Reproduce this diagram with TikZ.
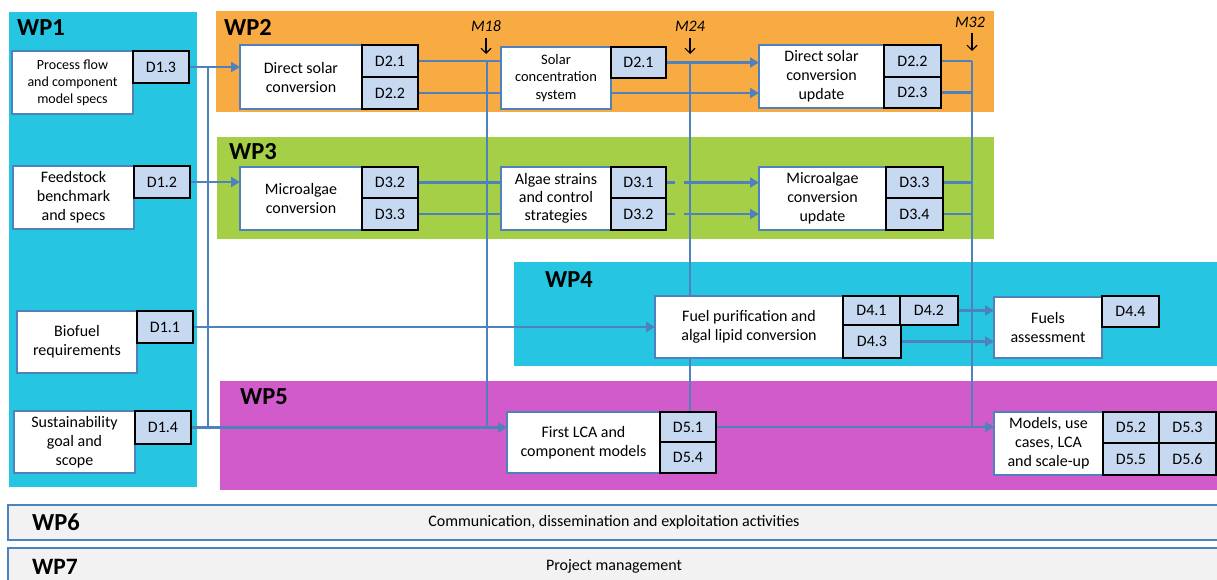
\documentclass[tikz,border=0pt]{standalone}
\usepackage{fontspec}
\setmainfont{Carlito}
\usetikzlibrary{arrows.meta}

\definecolor{wpcyan}{HTML}{26C5E1}
\definecolor{wporange}{HTML}{F9AB43}
\definecolor{wpgreen}{HTML}{A4CF46}
\definecolor{wpmagenta}{HTML}{D15BCB}
\definecolor{delivfill}{HTML}{C6D9F1}
\definecolor{linkblue}{HTML}{4F81BD}
\definecolor{bargray}{HTML}{F2F2F2}

\pgfdeclarelayer{panels}
\pgfdeclarelayer{links}
\pgfsetlayers{panels,links,main}

\tikzset{
  body/.style={font=\fontsize{16}{19}\selectfont},
  task/.style={draw=linkblue, line width=2.2pt, fill=white, align=center,
               inner sep=1pt, outer sep=0pt, body},
  deliv/.style={draw=black, line width=2.8pt, fill=delivfill,
                inner sep=0pt, outer sep=0pt, body},
  link/.style={draw=linkblue, line width=2.8pt},
  feed/.style={link, -{Triangle[length=9pt,width=10pt]}},
  wplabel/.style={font=\fontsize{24.5}{27}\selectfont\bfseries,
                  anchor=base west, inner sep=0pt},
  mlabel/.style={font=\fontsize{16}{19}\selectfont\itshape,
                 anchor=base, inner sep=0pt},
  mtick/.style={-{Straight Barb[length=5pt,width=10pt]}, line width=1.1pt, black},
  bar/.style={draw=linkblue, line width=2.8pt, fill=bargray,
              anchor=north west, inner sep=0pt, outer sep=0pt},
}

% box given by its corners: name, style, x1, y1, x2, y2, text
\newcommand\putbox[7]{%
  \node[#2, anchor=north west, minimum width={(#5-#3)*1pt},
        minimum height={(#6-#4)*1pt}] (#1) at (#3,#4) {#7};}

\begin{document}
\begin{tikzpicture}[x=1pt, y=-1pt]
\clip (0,0) rectangle (1217,579);

% work package panels
\begin{pgfonlayer}{panels}
  \fill[white]     (0,0)     rectangle (1217,579);
  \fill[wpcyan]    (9,12)    rectangle (197,487);
  \fill[wporange]  (216,11)  rectangle (994,112);
  \fill[wpgreen]   (217,137) rectangle (994,239);
  \fill[wpcyan]    (514,262) rectangle (1217,366);
  \fill[wpmagenta] (220,381) rectangle (1217,490);
\end{pgfonlayer}

\node[wplabel] (wp1) at (17,35)  {WP1};
\node[wplabel] (wp2) at (224,35) {WP2};
\node[wplabel] (wp3) at (229,159) {WP3};
\node[wplabel] (wp4) at (545,287) {WP4};
\node[wplabel] (wp5) at (240,404) {WP5};

% WP1
\putbox{pf}{task,font=\fontsize{14}{17}\selectfont}{12}{51}{133}{114}{Process flow\\and component\\model specs}
\putbox{d13}{deliv}{133}{51}{189}{83}{D1.3}
\putbox{fb}{task}{13}{166}{134}{229}{Feedstock\\benchmark\\and specs}
\putbox{d12}{deliv}{134}{166}{190}{198}{D1.2}
\putbox{br}{task}{17}{311}{137}{373}{Biofuel\\requirements}
\putbox{d11}{deliv}{137}{311}{193}{343}{D1.1}
\putbox{sg}{task}{14}{411}{135}{473}{Sustainability\\goal and\\scope}
\putbox{d14}{deliv}{135}{411}{191}{444}{D1.4}

% WP2
\putbox{ds}{task}{240}{45}{362}{109}{Direct solar\\conversion}
\putbox{d21a}{deliv}{362}{45}{418}{77}{D2.1}
\putbox{d22a}{deliv}{362}{77}{418}{109}{D2.2}
\putbox{sc}{task,font=\fontsize{14.5}{17.5}\selectfont}{501}{47}{611}{109}{Solar\\concentration\\system}
\putbox{d21b}{deliv}{611}{47}{666}{78}{D2.1}
\putbox{du}{task}{759}{45}{884}{108}{Direct solar\\conversion\\update}
\putbox{d22b}{deliv}{884}{45}{941}{77}{D2.2}
\putbox{d23}{deliv}{884}{77}{941}{108}{D2.3}

% WP3
\putbox{mc}{task}{240}{167}{362}{230}{Microalgae\\conversion}
\putbox{d32a}{deliv}{362}{167}{418}{198}{D3.2}
\putbox{d33a}{deliv}{362}{198}{418}{230}{D3.3}
\putbox{as}{task,font=\fontsize{16}{18}\selectfont}{501}{167}{611}{230}{Algae strains\\and control\\strategies}
\putbox{d31}{deliv}{611}{167}{666}{198}{D3.1}
\putbox{d32b}{deliv}{611}{198}{666}{230}{D3.2}
\putbox{mu}{task}{759}{167}{886}{230}{Microalgae\\conversion\\update}
\putbox{d33b}{deliv}{886}{167}{943}{198}{D3.3}
\putbox{d34}{deliv}{886}{198}{943}{230}{D3.4}

% WP4
\putbox{fp}{task}{655}{296}{843}{358}{Fuel purification and\\algal lipid conversion}
\putbox{d41}{deliv}{843}{296}{900}{325}{D4.1}
\putbox{d42}{deliv}{900}{296}{958}{325}{D4.2}
\putbox{d43}{deliv}{843}{325}{901}{358}{D4.3}
\putbox{fa}{task}{994}{297}{1102}{358}{Fuels\\assessment}
\putbox{d44}{deliv}{1102}{296}{1159}{327}{D4.4}

% WP5
\putbox{lca}{task}{507}{412}{660}{473}{First LCA and\\component models}
\putbox{d51}{deliv}{660}{412}{716}{442}{D5.1}
\putbox{d54}{deliv}{660}{442}{716}{473}{D5.4}
\putbox{mod}{task}{994}{412}{1103}{475}{Models, use\\cases, LCA\\and scale-up}
\putbox{d52}{deliv}{1103}{412}{1159}{443}{D5.2}
\putbox{d53}{deliv}{1159}{412}{1216}{443}{D5.3}
\putbox{d55}{deliv}{1103}{443}{1159}{475}{D5.5}
\putbox{d56}{deliv}{1159}{443}{1216}{475}{D5.6}

% milestones
\node[mlabel] (m18) at (486,31) {M18};
\node[mlabel] (m24) at (690,31) {M24};
\node[mlabel] (m32) at (970,27) {M32};
\draw[mtick] ([yshift=-7pt]m18.base)  -- ([yshift=-23pt]m18.base);
\draw[mtick] ([yshift=-7pt]m24.base)  -- ([yshift=-23pt]m24.base);
\draw[mtick] ([xshift=2pt,yshift=-6pt]m32.base) -- ([xshift=2pt,yshift=-24pt]m32.base);

% columns of the vertical links
\coordinate (bus)  at (208,0);
\coordinate (m18x) at (487,0);
\coordinate (m24x) at (690,0);
\coordinate (m32x) at (972,0);

\begin{pgfonlayer}{links}
  % from WP1
  \draw[link] (d13.east -| bus) -- (d14.east -| bus);
  \draw[feed] (d13.east) -- (d13.east -| ds.west);
  \draw[feed] (d12.east) -- (d12.east -| mc.west);
  \draw[feed] (d11.east) -- (d11.east -| fp.west);
  \draw[feed] (d14.east) -- (d14.east -| lca.west);
  % M18
  \draw[link] (d21a.east -| m18x) -- (d14.east -| m18x);
  \draw[link] (d21a.east) -- (d21a.east -| sc.west);
  \draw[feed] (d22a.east) -- (d22a.east -| du.west);
  \draw[link] (d32a.east) -- (d32a.east -| as.west);
  \draw[link] (d33a.east) -- (d33a.east -| as.west);
  % M24
  \draw[link] (d21b.east -| m24x) -- (d51.north -| m24x);
  \draw[feed] (d21b.east) -- (d21b.east -| du.west);
  \draw[link] (d31.east) -- ([xshift=9pt]d31.east);
  \draw[feed] ([xshift=18pt]d31.east) -- (d31.east -| mu.west);
  \draw[link] (d32b.east) -- ([xshift=9pt]d32b.east);
  \draw[feed] ([xshift=18pt]d32b.east) -- (d32b.east -| mu.west);
  % M32
  \draw[link] (d22b.east -| m32x) -- (d51.east -| m32x);
  \draw[link] (d22b.east) -- (d22b.east -| m32x);
  \draw[link] (d23.east) -- (d23.east -| m32x);
  \draw[link] (d33b.east) -- (d33b.east -| m32x);
  \draw[link] (d34.east) -- (d34.east -| m32x);
  % WP4 and WP5
  \draw[feed] (d42.east) -- (d42.east -| fa.west);
  \draw[feed] (d43.east) -- (d43.east -| fa.west);
  \draw[feed] (d51.east) -- (d51.east -| mod.west);
\end{pgfonlayer}

% transversal work packages
\node[bar, minimum width=1230pt, minimum height=35pt] (wp6bar) at (8,505) {};
\node[wplabel] (wp6) at (32,530) {WP6};
\node[body] (wp6t) at (614,522) {Communication, dissemination and exploitation activities};
\node[bar, minimum width=1230pt, minimum height=45pt] (wp7bar) at (8,548) {};
\node[wplabel, font=\fontsize{23.5}{26}\selectfont\bfseries] (wp7) at (32,574) {WP7};
\node[body] (wp7t) at (614,566) {Project management};
\end{tikzpicture}
\end{document}
